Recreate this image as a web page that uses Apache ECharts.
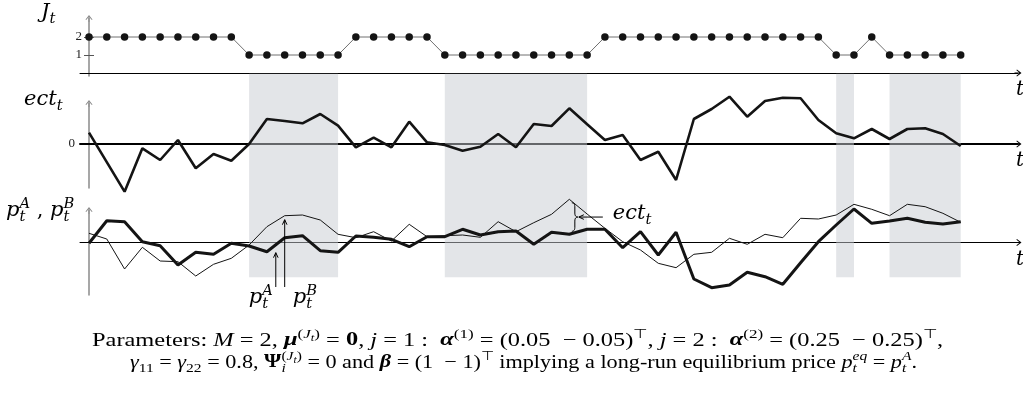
<!DOCTYPE html>
<html>
<head>
<meta charset="utf-8">
<script src="https://cdn.jsdelivr.net/npm/echarts@6/dist/echarts.min.js"></script>
<style>
  html, body { margin: 0; padding: 0; background: #fff; }
  #c { width: 1023px; height: 397px; }
</style>
</head>
<body>
<div id="c"></div>
<script>
// ---------------- data ----------------
// regime indicator J_t for t = 0..49
const regime = [2,2,2,2,2,2,2,2,2, 1,1,1,1,1,1, 2,2,2,2,2, 1,1,1,1,1,1,1,1,1,
                2,2,2,2,2,2,2,2,2,2,2,2,2, 1,1, 2, 1,1,1,1,1];
// error-correction term ect_t
const ect = [1.13,-1.82,-4.77,-0.43,-1.6,0.4,-2.43,-1.0,-1.67,0.0,
             2.5,2.3,2.07,3.0,1.83,-0.33,0.63,-0.33,2.23,0.17,
             -0.1,-0.67,-0.27,1.0,-0.33,2.0,1.8,3.57,1.97,0.4,
             0.9,-1.6,-0.77,-3.6,2.5,3.5,4.73,2.73,4.3,4.63,
             4.57,2.4,1.07,0.57,1.5,0.5,1.5,1.57,1.0,-0.2];
// prices p_t^A (bold) and p_t^B (thin)
const priceA = [-0.08,2.18,2.08,0.08,-0.32,-2.25,-0.98,-1.18,-0.08,-0.35,
                -0.92,0.48,0.68,-0.82,-0.98,0.65,0.52,0.32,-0.42,0.58,
                0.58,1.32,0.75,1.08,1.15,-0.18,1.02,0.82,1.32,1.32,
                -0.52,1.08,-1.25,1.02,-3.65,-4.52,-4.25,-2.98,-3.42,-4.18,
                -2.02,0.08,1.75,3.35,1.92,2.15,2.42,2.02,1.85,2.08];
const priceB = [0.92,0.35,-2.65,-0.48,-1.85,-1.92,-3.35,-2.18,-1.58,-0.25,
                1.58,2.68,2.75,2.25,0.82,0.48,1.08,0.15,1.82,0.58,
                0.68,0.75,0.52,2.08,1.08,1.98,2.82,4.32,2.85,1.42,
                0.08,-0.75,-2.08,-2.52,-1.18,-0.98,0.42,-0.18,0.82,0.48,
                2.42,2.35,2.75,3.82,3.32,2.68,3.82,3.58,2.92,2.02];
const regimeTicks = [1, 2];
const ectTicks = [0];

// ---------------- layout ----------------
const STEP = 17.79;          // px between consecutive t
const X_FIRST = 89;          // px of t = 0 (vertical axes sit here)
const AX_LEFT = 80, AX_RIGHT = 1018;
const xMin = (AX_LEFT - X_FIRST) / STEP;
const xMax = (AX_RIGHT - X_FIRST) / STEP;
const GRID_W = AX_RIGHT - AX_LEFT;
const Y_OFFSET = AX_LEFT - X_FIRST;   // shifts vertical axes onto t = 0

const INK = '#141414';
const ARROW = 'path://M5,0 L10,6.5 L9.1,7.3 L5.6,3.2 L5.6,10 L4.4,10 L4.4,3.2 L0.9,7.3 L0,6.5 Z';

const pairs = arr => arr.map((v, i) => [i, v]);

// runs of regime 1 -> shaded bands
const runs = [];
let runStart = null;
regime.forEach((r, i) => {
  if (r === 1 && runStart === null) runStart = i;
  if (r !== 1 && runStart !== null) { runs.push([runStart, i - 1]); runStart = null; }
});
if (runStart !== null) runs.push([runStart, regime.length - 1]);

function xAxisFor(grid, width, visible) {
  return {
    type: 'value', gridIndex: grid, min: xMin, max: xMax, show: visible,
    axisLine: { show: true, onZero: true, symbol: ['none', ARROW], symbolSize: [7, 7],
                lineStyle: { color: '#000', width: width } },
    axisTick: { show: false }, axisLabel: { show: false }, splitLine: { show: false }
  };
}
function yAxisFor(grid, min, max) {
  return {
    type: 'value', gridIndex: grid, min: min, max: max, position: 'left', offset: Y_OFFSET,
    axisLine: { show: true, onZero: false, symbol: ['none', ARROW], symbolSize: [7, 7],
                lineStyle: { color: '#8a8a8a', width: 1.5 } },
    axisTick: { show: false }, axisLabel: { show: false }, splitLine: { show: false }
  };
}

const yJ = yAxisFor(0, -1 / 6, (73 - 18.5) / 18);
yJ.axisTick = { show: true, length: 5, customValues: regimeTicks, lineStyle: { color: '#555', width: 1 } };
yJ.axisLabel = { show: true, customValues: regimeTicks, margin: 7,
                 fontFamily: 'Liberation Serif', fontSize: 13, color: '#222' };
const yJin = {
  type: 'value', gridIndex: 0, min: yJ.min, max: yJ.max, position: 'left', offset: Y_OFFSET,
  axisLine: { show: false, onZero: false },
  axisTick: { show: true, inside: true, length: 5, customValues: regimeTicks, lineStyle: { color: '#555', width: 1 } },
  axisLabel: { show: false }, splitLine: { show: false }
};
const yE = yAxisFor(1, -4.4, 4.05);
yE.axisLabel = { show: true, customValues: ectTicks, margin: 14,
                 fontFamily: 'Liberation Serif', fontSize: 13, color: '#222' };
const yP = yAxisFor(2, -5.25, 3.2);
const yBand = { type: 'value', gridIndex: 3, min: 0, max: 1, show: false };

const option = {
  animation: false,
  backgroundColor: '#fff',
  grid: [
    { left: AX_LEFT, top: 18.5, width: GRID_W, height: 57.5 },
    { left: AX_LEFT, top: 103.5, width: GRID_W, height: 84.5 },
    { left: AX_LEFT, top: 210.5, width: GRID_W, height: 84.5 },
    { left: AX_LEFT, top: 73.8, width: GRID_W, height: 203.5 }
  ],
  xAxis: [xAxisFor(0, 1, true), xAxisFor(1, 2, true), xAxisFor(2, 1, true), xAxisFor(3, 1, false)],
  yAxis: [yJ, yJin, yE, yP, yBand],
  series: [
    {
      type: 'custom', xAxisIndex: 3, yAxisIndex: 4, z: 1, silent: true, clip: false,
      data: runs,
      renderItem: (params, api) => {
        const a = api.coord([api.value(0), 1]);
        const b = api.coord([api.value(1), 0]);
        return { type: 'rect', shape: { x: a[0], y: a[1], width: b[0] - a[0], height: b[1] - a[1] },
                 style: { fill: 'rgba(200,203,210,0.5)' } };
      }
    },
    {
      type: 'line', xAxisIndex: 0, yAxisIndex: 0, z: 3, data: pairs(regime),
      symbol: 'circle', symbolSize: 7.5, showSymbol: true,
      itemStyle: { color: INK }, lineStyle: { color: '#707070', width: 1 }
    },
    {
      type: 'line', xAxisIndex: 1, yAxisIndex: 2, z: 3, data: pairs(ect), clip: false,
      showSymbol: false, lineStyle: { color: INK, width: 2.6 }
    },
    {
      type: 'line', xAxisIndex: 2, yAxisIndex: 3, z: 3, data: pairs(priceB), clip: false,
      showSymbol: false, lineStyle: { color: INK, width: 1 }
    },
    {
      type: 'line', xAxisIndex: 2, yAxisIndex: 3, z: 4, data: pairs(priceA), clip: false,
      showSymbol: false, lineStyle: { color: INK, width: 3 }
    }
  ]
};

const chart = echarts.init(document.getElementById('c'));
chart.setOption(option);

// ---------------- text with sub/superscripts ----------------
const measureCtx = document.createElement('canvas').getContext('2d');
function fontOf(st, family) {
  return (st.it ? 'italic ' : 'normal ') + (st.bd ? 'bold ' : 'normal ') + st.size.toFixed(2) + 'px "' + family + '"';
}
function styles(fs) {
  return {
    r:   { size: fs, dy: 0 },
    i:   { size: fs, dy: 0, it: true },
    b:   { size: fs, dy: 0, bd: true },
    bi:  { size: fs, dy: 0, it: true, bd: true },
    sp:  { size: 0.7 * fs, dy: -0.4 * fs },
    spi: { size: 0.7 * fs, dy: -0.4 * fs, it: true },
    ssb: { size: 0.52 * fs, dy: -0.27 * fs, it: true },
    sb:  { size: 0.7 * fs, dy: 0.22 * fs },
    sbi: { size: 0.7 * fs, dy: 0.22 * fs, it: true }
  };
}
// tokens: [text, style, flag]; flag 'm' marks a start, 's' stacks onto the last mark.
// o.x = left edge; o.right (optional) stretches the run horizontally to end there.
function mathText(tokens, o) {
  const S = styles(o.fs);
  let x = 0, mark = 0;
  const items = tokens.map(([text, sk, flag]) => {
    const st = S[sk];
    const font = fontOf(st, o.family);
    measureCtx.font = font;
    const w = measureCtx.measureText(text).width;
    let start;
    if (flag === 's') { start = mark; x = Math.max(x, start + w); }
    else { start = x; if (flag === 'm') mark = start; x += w; }
    return { text, st, font, start };
  });
  const k = o.right !== undefined ? (o.right - o.x) / x : 1;
  return items.map(it => ({
    type: 'text', silent: true, z: 10,
    x: o.x + it.start * k,
    y: o.baseline + it.st.dy - 0.34 * it.st.size,
    scaleX: k,
    style: { text: it.text, font: it.font, fill: o.color || '#000',
             align: 'left', textAlign: 'left', verticalAlign: 'middle', textVerticalAlign: 'middle' }
  }));
}

const LBL = { family: 'DejaVu Serif', fs: 21 };
const els = [];
// panel titles
els.push(...mathText([['J', 'i'], ['t', 'sbi']], { ...LBL, x: 41, baseline: 20 }));
els.push(...mathText([['ect', 'i'], ['t', 'sbi']], { ...LBL, x: 24, baseline: 107 }));
els.push(...mathText([['p', 'i'], ['A', 'spi', 'm'], ['t', 'sbi', 's'], [' , ', 'r'],
                      ['p', 'i'], ['B', 'spi', 'm'], ['t', 'sbi', 's']], { ...LBL, x: 6, baseline: 218 }));
// time-axis names
[97, 168, 267].forEach(b => els.push(...mathText([['t', 'i']], { ...LBL, fs: 20, x: 1016, baseline: b })));

// annotations anchored to the price series
const px = (si, pt) => chart.convertToPixel({ seriesIndex: si }, pt);
const thin = { stroke: '#000', lineWidth: 1, fill: null };
function upArrow(x, tipY, baseY) {
  els.push({ type: 'line', silent: true, z: 10, shape: { x1: x, y1: baseY, x2: x, y2: tipY }, style: thin });
  els.push({ type: 'polyline', silent: true, z: 10,
             shape: { points: [[x - 2.3, tipY + 5], [x, tipY], [x + 2.3, tipY + 5]] }, style: thin });
}
const tipA = px(4, [10.5, (priceA[10] + priceA[11]) / 2]);
const tipB = px(3, [11, priceB[11]]);
const arrowBase = px(4, [0, -4.45])[1];
upArrow(tipA[0], tipA[1] + 8, arrowBase);
upArrow(tipB[0], tipB[1] + 4, arrowBase);
els.push(...mathText([['p', 'i'], ['A', 'spi', 'm'], ['t', 'sbi', 's']], { ...LBL, x: tipA[0] - 27, baseline: arrowBase + 18 }));
els.push(...mathText([['p', 'i'], ['B', 'spi', 'm'], ['t', 'sbi', 's']], { ...LBL, x: tipB[0] + 8, baseline: arrowBase + 18 }));

// brace marking ect_t as the gap between the two prices
function quad(p0, p1, p2, n) {
  const out = [];
  for (let k = 0; k <= n; k++) {
    const s = k / n, u = 1 - s;
    out.push([u * u * p0[0] + 2 * u * s * p1[0] + s * s * p2[0], u * u * p0[1] + 2 * u * s * p1[1] + s * s * p2[1]]);
  }
  return out;
}
const bTop = px(3, [27, priceB[27]]);
const bBot = px(4, [27, priceA[27]]);
const bx = bTop[0] + 2.5, by0 = bTop[1] + 3.5, by1 = bBot[1] - 3, bmy = (by0 + by1) / 2;
const brace = [].concat(
  quad([bx, by0], [bx + 3, by0], [bx + 3, by0 + 4], 6),
  quad([bx + 3, bmy - 4], [bx + 3, bmy], [bx + 6, bmy], 6),
  quad([bx + 6, bmy], [bx + 3, bmy], [bx + 3, bmy + 4], 6),
  quad([bx + 3, by1 - 4], [bx + 3, by1], [bx, by1], 6)
);
els.push({ type: 'polyline', silent: true, z: 10, shape: { points: brace }, style: thin });
els.push({ type: 'line', silent: true, z: 10, shape: { x1: bx + 31, y1: bmy, x2: bx + 7, y2: bmy }, style: thin });
els.push({ type: 'polyline', silent: true, z: 10,
           shape: { points: [[bx + 12, bmy - 2.3], [bx + 7, bmy], [bx + 12, bmy + 2.3]] }, style: thin });
els.push(...mathText([['ect', 'i'], ['t', 'sbi']], { ...LBL, x: bx + 41, baseline: bmy + 4 }));

// caption
const CAP = { family: 'Liberation Serif', fs: 19 };
els.push(...mathText([
  ['Parameters: ', 'r'], ['M', 'i'], [' = 2, ', 'r'], ['μ', 'bi'],
  ['(', 'sp'], ['J', 'spi'], ['t', 'ssb'], [')', 'sp'], [' = ', 'r'], ['0', 'b'], [', ', 'r'],
  ['j', 'i'], [' = 1 :  ', 'r'], ['α', 'bi'], ['(1)', 'sp'], [' = (0.05  − 0.05)', 'r'], ['⊤', 'sp'],
  [', ', 'r'], ['j', 'i'], [' = 2 :  ', 'r'], ['α', 'bi'], ['(2)', 'sp'], [' = (0.25  − 0.25)', 'r'],
  ['⊤', 'sp'], [',', 'r']
], { ...CAP, x: 92, right: 943, baseline: 347 }));
els.push(...mathText([
  ['γ', 'i'], ['11', 'sb'], [' = ', 'r'], ['γ', 'i'], ['22', 'sb'], [' = 0.8, ', 'r'], ['Ψ', 'b'],
  ['(', 'sp', 'm'], ['J', 'spi'], ['t', 'ssb'], [')', 'sp'], ['i', 'sbi', 's'],
  [' = 0 and ', 'r'], ['β', 'bi'], [' = (1  − 1)', 'r'], ['⊤', 'sp'],
  [' implying a long-run equilibrium price ', 'r'], ['p', 'i'], ['eq', 'spi', 'm'], ['t', 'sbi', 's'],
  [' = ', 'r'], ['p', 'i'], ['A', 'spi', 'm'], ['t', 'sbi', 's'], ['.', 'r']
], { ...CAP, x: 130, right: 917, baseline: 369 }));

chart.setOption({ graphic: { elements: els } });
</script>
</body>
</html>
